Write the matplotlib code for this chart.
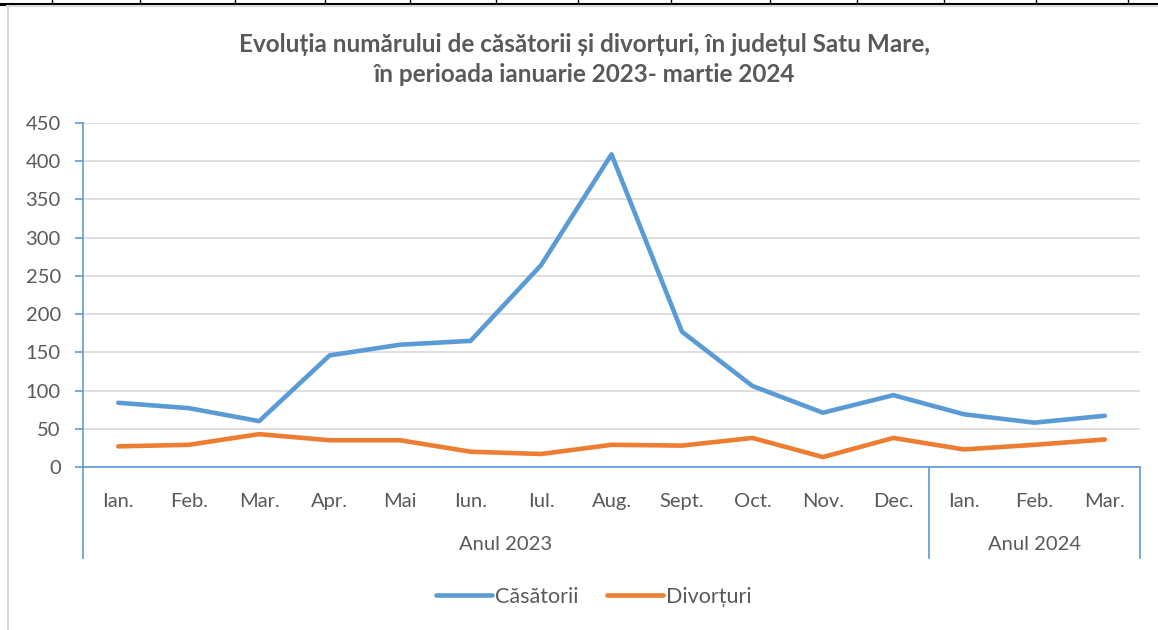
import matplotlib
matplotlib.use('agg')
import matplotlib.pyplot as plt
from matplotlib.lines import Line2D
import matplotlib.transforms as mtransforms

# data
months = ['Ian.', 'Feb.', 'Mar.', 'Apr.', 'Mai', 'Iun.', 'Iul.', 'Aug.', 'Sept.',
          'Oct.', 'Nov.', 'Dec.', 'Ian.', 'Feb.', 'Mar.']
years = ['Anul 2023', 'Anul 2024']
months_per_year = [12, 3]
casatorii = [84, 77, 60, 146, 160, 165, 264, 409, 177, 106, 71, 94, 69, 58, 67]
divorturi = [27, 29, 43, 35, 35, 20, 17, 29, 28, 38, 13, 38, 23, 29, 36]

blue = '#5B9BD5'
orange = '#ED7D31'
grey_txt = '#595959'

plt.rcParams['font.family'] = ['Lato', 'DejaVu Sans']

fig = plt.figure(figsize=(11.58, 6.30), dpi=100)
ax = fig.add_axes([83 / 1158, 1 - 467 / 630, (1140 - 83) / 1158, 344 / 630])

x = list(range(len(months)))
ax.plot(x, casatorii, color=blue, lw=3.3, solid_joinstyle='round', solid_capstyle='round', label='Căsătorii')
ax.plot(x, divorturi, color=orange, lw=3.3, solid_joinstyle='round', solid_capstyle='round', label='Divorțuri')

ax.set_xlim(-0.5, len(months) - 0.5)
ax.set_ylim(0, 450)
ax.set_yticks(range(0, 451, 50))
ax.yaxis.grid(True, color='#D9D9D9', lw=1.2)
ax.set_axisbelow(True)
ax.tick_params(axis='y', colors=blue, labelcolor=grey_txt, labelsize=14.5, length=6, width=1.2, pad=10)
ax.set_xticks(x)
ax.set_xticklabels(months)
ax.tick_params(axis='x', length=0, labelcolor=grey_txt, labelsize=14.5, pad=19)

for s in ['top', 'right']:
    ax.spines[s].set_visible(False)
for s in ['left', 'bottom']:
    ax.spines[s].set_color(blue)
    ax.spines[s].set_linewidth(1.2)

# category group box under the axis
trans = mtransforms.blended_transform_factory(ax.transData, ax.transAxes)
y_low = (467 - 558) / 344
edge = -0.5
for n, name in zip(months_per_year, years):
    ax.plot([edge, edge], [0, y_low], color=blue, lw=1.2, transform=trans, clip_on=False)
    ax.text(edge + n / 2, (467 - 545) / 344, name, transform=trans, ha='center', va='center',
            fontsize=14.5, color=grey_txt)
    edge += n
ax.plot([edge, edge], [0, y_low], color=blue, lw=1.2, transform=trans, clip_on=False)

fig.text(0.505, 1 - 44 / 630, 'Evoluția numărului de căsătorii și divorțuri, în județul Satu Mare,',
         ha='center', va='center', fontsize=17.5, fontweight='bold', color=grey_txt)
fig.text(0.505, 1 - 75 / 630, 'în perioada ianuarie 2023- martie 2024',
         ha='center', va='center', fontsize=17.5, fontweight='bold', color=grey_txt)

leg = fig.legend(loc='center', bbox_to_anchor=(0.513, 1 - 597 / 630), ncol=2, frameon=False,
                 fontsize=15.5, handlelength=2.6, handletextpad=0.15, columnspacing=1.3)
for t in leg.get_texts():
    t.set_color(grey_txt)

# page/table borders around the chart
fig.add_artist(Line2D([0, 1], [1 - 4 / 630] * 2, color='black', lw=2.2))
for px in [52, 140, 235, 325, 410, 496, 578, 671, 770, 857, 944, 1036, 1128]:
    fig.add_artist(Line2D([px / 1158] * 2, [1 - 4 / 630, 1], color='black', lw=1))
fig.add_artist(Line2D([0.006, 1], [1 - 6 / 630] * 2, color='#D9D9D9', lw=1.5))
fig.add_artist(Line2D([8 / 1158] * 2, [0, 1 - 6 / 630], color='#D9D9D9', lw=1.5))

fig.savefig('out.png', dpi=100)
